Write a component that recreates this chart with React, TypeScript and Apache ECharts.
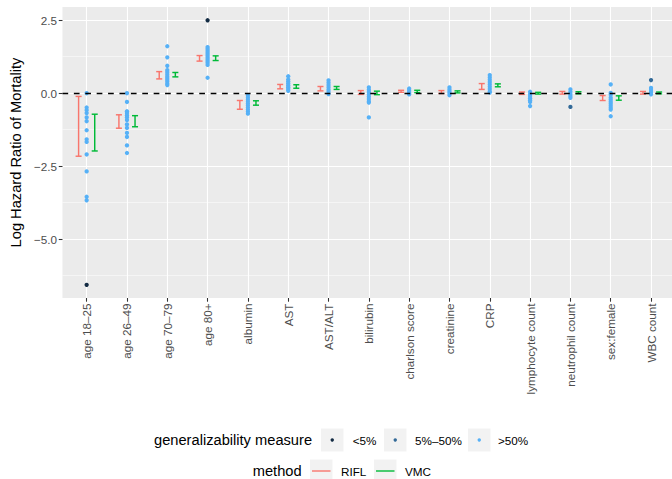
import React, { useEffect, useRef } from 'react';
import * as echarts from 'echarts';

// ---------- data ----------
const categories = [
  'age 18–25', 'age 26–49', 'age 70–79', 'age 80+', 'albumin', 'AST', 'AST/ALT',
  'bilirubin', 'charlson score', 'creatinine', 'CRP', 'lymphocyte count',
  'neutrophil count', 'sex:female', 'WBC count',
];

const riflLow = [-2.16, -1.20, 0.49, 1.10, -0.55, 0.15, 0.08, -0.04, 0.03, -0.01, 0.13, -0.04, -0.03, -0.25, -0.03];
const riflHigh = [-0.11, -0.74, 0.74, 1.29, -0.25, 0.30, 0.23, 0.09, 0.10, 0.09, 0.33, 0.04, 0.06, -0.08, 0.06];
const vmcLow = [-1.98, -1.15, 0.56, 1.12, -0.41, 0.17, 0.13, -0.05, 0.02, 0.01, 0.22, -0.03, -0.02, -0.24, -0.02];
const vmcHigh = [-0.72, -0.77, 0.71, 1.28, -0.26, 0.29, 0.23, 0.07, 0.10, 0.08, 0.32, 0.03, 0.05, -0.09, 0.04];

// points with generalizability > 50%, one list per category
const pointsOver50: number[][] = [
  [0.0, -0.49, -0.58, -0.68, -0.83, -0.96, -1.27, -1.58, -1.67, -2.10, -2.68, -3.55, -3.67],
  [0.0, -0.30, -0.62, -0.68, -0.76, -0.83, -0.92, -1.07, -1.19, -1.36, -1.50, -1.79, -2.05],
  [1.61, 1.23, 0.94, 0.79, 0.72, 0.65, 0.58, 0.52, 0.46, 0.40, 0.33, 0.28],
  [1.58, 1.52, 1.46, 1.40, 1.34, 1.28, 1.22, 1.16, 1.10, 1.04, 0.97, 0.53],
  [-0.07, -0.14, -0.21, -0.28, -0.35, -0.42, -0.49, -0.56, -0.63, -0.70],
  [0.58, 0.47, 0.40, 0.33, 0.26, 0.20, 0.14, 0.08],
  [0.44, 0.36, 0.28, 0.20, 0.12, 0.05, -0.03],
  [0.20, 0.12, 0.04, -0.04, -0.12, -0.20, -0.28, -0.32, -0.83],
  [0.16, 0.10, 0.04, -0.02, -0.04],
  [0.20, 0.13, 0.06, 0.0, -0.07],
  [0.62, 0.54, 0.46, 0.38, 0.30, 0.22, 0.14, 0.06, 0.02],
  [0.05, -0.03, -0.10, -0.17, -0.24, -0.30, -0.44],
  [0.13, 0.05, -0.03, -0.10, -0.16],
  [0.30, 0.01, -0.05, -0.15, -0.22, -0.29, -0.36, -0.43, -0.50, -0.56, -0.79],
  [0.18, 0.11, 0.04, -0.04],
];
const points5to50: [string, number][] = [['neutrophil count', -0.47], ['WBC count', 0.45]];
const pointsUnder5: [string, number][] = [['age 18–25', -6.57], ['age 80+', 2.50]];

const yRange = [-7.02, 2.955];
const xRange = [-0.6, 14.52];
const yTickValues = [-5, -2.5, 0, 2.5];
const yMinorValues = [-6.25, -3.75, -1.25, 1.25];
const levelLabels = ['<5%', '5%–50%', '>50%'];
const methodLabels = ['RIFL', 'VMC'];

// ---------- styles ----------
const FONT = '"Liberation Sans", Arial, Helvetica, sans-serif';
const LEVEL_COLORS = ['#132B43', '#336A98', '#56B1F7'];
const METHOD_COLORS = ['#F8766D', '#00BA38'];
const DODGE = 0.2;
const CAP = 0.15;
const GRID_TOP = 7;
const GRID_BOTTOM = 181;
const CHART_H = 479;
const PANEL_H = CHART_H - GRID_TOP - GRID_BOTTOM;

const makeErrorbar = (color: string, offset: number) => (_params: any, api: any) => {
  const xc = api.value(0);
  const lo = api.coord([xc + offset, api.value(1)]);
  const hi = api.coord([xc + offset, api.value(2)]);
  const half = api.size([CAP, 0])[0] / 2;
  const style = { stroke: color, lineWidth: 1.45, fill: null };
  return {
    type: 'group',
    children: [
      { type: 'line', shape: { x1: lo[0], y1: lo[1], x2: hi[0], y2: hi[1] }, style },
      { type: 'line', shape: { x1: lo[0] - half, y1: lo[1], x2: lo[0] + half, y2: lo[1] }, style },
      { type: 'line', shape: { x1: hi[0] - half, y1: hi[1], x2: hi[0] + half, y2: hi[1] }, style },
    ],
  };
};

function buildLegend() {
  const els: any[] = [];
  const row1Y = 440;
  const row2Y = 471;
  const boxW = 22.5;
  const boxH = 23;
  els.push({
    type: 'text', x: 154, y: row1Y,
    style: { text: 'generalizability measure', fontSize: 14.67, fontFamily: FONT, fill: '#000', verticalAlign: 'middle' },
  });
  const boxX1 = [321, 384, 468];
  const textX1 = [352.7, 415, 498];
  levelLabels.forEach((lab, i) => {
    els.push({ type: 'rect', shape: { x: boxX1[i], y: row1Y - boxH / 2, width: boxW, height: boxH }, style: { fill: '#F2F2F2' } });
    els.push({ type: 'circle', shape: { cx: boxX1[i] + boxW / 2, cy: row1Y, r: 1.7 }, style: { fill: LEVEL_COLORS[i] } });
    els.push({ type: 'text', x: textX1[i], y: row1Y, style: { text: lab, fontSize: 11.7, fontFamily: FONT, fill: '#000', verticalAlign: 'middle' } });
  });
  els.push({
    type: 'text', x: 252.7, y: row2Y,
    style: { text: 'method', fontSize: 14.67, fontFamily: FONT, fill: '#000', verticalAlign: 'middle' },
  });
  const boxX2 = [310, 374];
  const textX2 = [341, 405];
  methodLabels.forEach((lab, i) => {
    els.push({ type: 'rect', shape: { x: boxX2[i], y: row2Y - boxH / 2, width: boxW, height: boxH }, style: { fill: '#F2F2F2' } });
    els.push({ type: 'line', shape: { x1: boxX2[i] + 2, y1: row2Y, x2: boxX2[i] + boxW - 2, y2: row2Y }, style: { stroke: METHOD_COLORS[i], lineWidth: 1.4 } });
    els.push({ type: 'text', x: textX2[i], y: row2Y, style: { text: lab, fontSize: 11.7, fontFamily: FONT, fill: '#000', verticalAlign: 'middle' } });
  });
  return els;
}

export default function App() {
  const ref = useRef<HTMLDivElement>(null);
  useEffect(() => {
    if (!ref.current) return;
    const chart = echarts.init(ref.current, null, { renderer: 'svg' });
    const catIdx = (c: string) => categories.indexOf(c);
    const xTicks = categories.map((_, i) => i);

    const option: any = {
      animation: false,
      backgroundColor: '#FFFFFF',
      textStyle: { fontFamily: FONT },
      grid: {
        left: 56, right: 0, top: GRID_TOP, bottom: GRID_BOTTOM,
        show: true, backgroundColor: '#EBEBEB', borderWidth: 0, containLabel: false,
      },
      xAxis: [
        {
          type: 'value', min: xRange[0], max: xRange[1], position: 'bottom',
          axisLine: { show: false, onZero: false },
          axisTick: { show: true, customValues: xTicks, length: 3.7, lineStyle: { color: '#333333', width: 1.07 } },
          axisLabel: {
            customValues: xTicks, rotate: 90, margin: 5.5, fontSize: 11.7, color: '#4D4D4D', fontFamily: FONT,
            formatter: (v: number) => categories[Math.round(v)] ?? '',
          },
          splitLine: { show: true, lineStyle: { color: '#FFFFFF', width: 1.07 } },
        },
        {
          // vertical white grid lines at the categories, drawn as inward ticks spanning the panel
          type: 'value', min: xRange[0], max: xRange[1], position: 'bottom', offset: 0,
          axisLine: { show: false, onZero: false },
          axisTick: {
            show: true, inside: true, customValues: xTicks, length: PANEL_H,
            lineStyle: { color: '#FFFFFF', width: 1.1 },
          },
          axisLabel: { show: false, customValues: xTicks },
          splitLine: { show: false },
        },
      ],
      yAxis: [
        {
          type: 'value', min: yRange[0], max: yRange[1], position: 'left',
          name: 'Log Hazard Ratio of Mortality', nameLocation: 'middle', nameGap: 35,
          nameTextStyle: { fontSize: 14.67, color: '#000', fontFamily: FONT },
          axisLine: { show: false, onZero: false },
          axisTick: { show: true, customValues: yTickValues, length: 3.7, lineStyle: { color: '#333333', width: 1.07 } },
          axisLabel: {
            customValues: yTickValues, margin: 5.5, fontSize: 11.7, color: '#4D4D4D', fontFamily: FONT,
            formatter: (v: number) => v.toFixed(1).replace('-', '−'),
          },
          splitLine: { show: true, lineStyle: { color: '#FFFFFF', width: 1.07 } },
        },
        {
          type: 'value', min: yRange[0], max: yRange[1], position: 'left',
          axisLine: { show: false, onZero: false },
          axisTick: { show: false, customValues: yMinorValues },
          axisLabel: { show: false, customValues: yMinorValues },
          splitLine: { show: true, lineStyle: { color: '#FFFFFF', width: 0.53 } },
        },
      ],
      series: [
        {
          name: 'zero', type: 'line', data: [], silent: true, z: 2,
          markLine: {
            silent: true, symbol: ['none', 'none'], label: { show: false },
            lineStyle: { color: '#000000', type: [5.7, 5.7], width: 1.4 },
            data: [{ yAxis: 0 }],
          },
        },
        {
          name: methodLabels[0], type: 'custom', z: 3,
          renderItem: makeErrorbar(METHOD_COLORS[0], -DODGE),
          encode: { x: 0, y: [1, 2] },
          data: categories.map((_, i) => [i, riflLow[i], riflHigh[i]]),
        },
        {
          name: methodLabels[1], type: 'custom', z: 3,
          renderItem: makeErrorbar(METHOD_COLORS[1], DODGE),
          encode: { x: 0, y: [1, 2] },
          data: categories.map((_, i) => [i, vmcLow[i], vmcHigh[i]]),
        },
        {
          name: levelLabels[2], type: 'scatter', z: 4, symbolSize: 4.3,
          itemStyle: { color: LEVEL_COLORS[2], opacity: 1 },
          data: pointsOver50.flatMap((vals, i) => vals.map((v) => [i, v])),
        },
        {
          name: levelLabels[1], type: 'scatter', z: 4, symbolSize: 4.3,
          itemStyle: { color: LEVEL_COLORS[1], opacity: 1 },
          data: points5to50.map(([c, v]) => [catIdx(c), v]),
        },
        {
          name: levelLabels[0], type: 'scatter', z: 4, symbolSize: 4.3,
          itemStyle: { color: LEVEL_COLORS[0], opacity: 1 },
          data: pointsUnder5.map(([c, v]) => [catIdx(c), v]),
        },
      ],
      graphic: buildLegend(),
    };
    chart.setOption(option);
    return () => chart.dispose();
  }, []);

  return (
    <div
      ref={ref}
      style={{ position: 'fixed', left: 0, top: 0, width: 672, height: 479, background: '#fff' }}
    />
  );
}
